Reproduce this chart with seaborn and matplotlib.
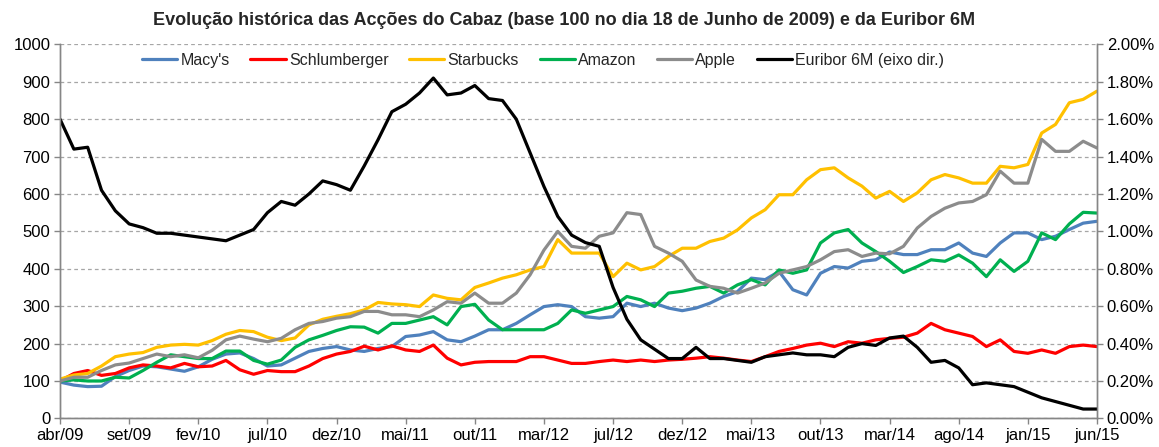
import numpy as np
import matplotlib
matplotlib.use("Agg")
import matplotlib.pyplot as plt
from matplotlib.ticker import FuncFormatter, MultipleLocator
import seaborn as sns

# eixo x: posicoes dos rotulos (0 = abr/09 ... 15 = jun/15), dados lidos a cada 0.2 intervalos
tick_labels = ["abr/09", "set/09", "fev/10", "jul/10", "dez/10", "mai/11", "out/11", "mar/12",
               "jul/12", "dez/12", "mai/13", "out/13", "mar/14", "ago/14", "jan/15", "jun/15"]

# base 100
macys = [97, 89, 85, 86, 112, 128, 140, 138, 132, 126, 138, 158, 172, 175, 160, 140,
         143, 161, 179, 187, 192, 183, 179, 187, 192, 219, 223, 232, 210, 205, 220, 237,
         237, 254, 277, 299, 304, 299, 272, 268, 272, 308, 299, 308, 295, 288, 295, 308,
         326, 339, 375, 371, 393, 344, 330, 388, 406, 402, 420, 424, 445, 438, 438, 451,
         451, 469, 442, 433, 469, 496, 496, 478, 487, 505, 522, 527]
schlumberger = [100, 120, 128, 115, 120, 135, 143, 140, 135, 147, 138, 140, 155, 130, 118, 128,
                125, 125, 140, 160, 172, 179, 193, 183, 194, 183, 179, 196, 161, 143, 150, 152,
                152, 152, 165, 165, 156, 147, 147, 152, 156, 152, 156, 152, 156, 158, 161, 165,
                161, 156, 152, 165, 179, 187, 196, 201, 192, 205, 201, 210, 214, 217, 228, 254,
                237, 228, 219, 192, 210, 179, 174, 183, 174, 192, 196, 192]
starbucks = [105, 116, 120, 140, 165, 172, 176, 190, 196, 198, 196, 208, 225, 235, 232, 217,
             208, 215, 250, 265, 273, 280, 290, 310, 306, 304, 299, 330, 321, 317, 350, 362,
             375, 384, 397, 406, 478, 442, 442, 442, 379, 415, 397, 406, 433, 455, 455, 473,
             482, 504, 536, 558, 598, 598, 638, 665, 670, 643, 621, 589, 607, 580, 603, 638,
             652, 643, 629, 629, 674, 670, 679, 763, 786, 844, 853, 875]
amazon = [100, 103, 100, 100, 110, 108, 128, 150, 170, 165, 160, 160, 180, 180, 155, 145,
          156, 190, 210, 222, 235, 245, 244, 228, 254, 254, 263, 272, 250, 299, 305, 263,
          237, 237, 237, 237, 254, 290, 281, 290, 299, 326, 317, 299, 335, 340, 348, 353,
          335, 357, 371, 357, 397, 388, 397, 469, 496, 505, 469, 446, 420, 390, 406, 424,
          420, 437, 415, 379, 424, 393, 420, 496, 478, 520, 551, 549]
apple = [100, 110, 110, 128, 143, 148, 160, 172, 165, 170, 162, 182, 210, 220, 212, 205,
         214, 237, 254, 259, 268, 272, 286, 286, 277, 277, 272, 290, 312, 308, 335, 308,
         308, 335, 384, 450, 500, 460, 455, 487, 496, 550, 545, 460, 442, 420, 370, 353,
         348, 335, 348, 362, 388, 397, 406, 424, 446, 451, 433, 442, 440, 460, 509, 540,
         562, 576, 580, 598, 661, 629, 629, 746, 714, 714, 741, 723]
# Euribor 6M em %
euribor = [1.60, 1.44, 1.45, 1.22, 1.11, 1.04, 1.02, 0.99, 0.99, 0.98, 0.97, 0.96, 0.95, 0.98,
           1.01, 1.10, 1.16, 1.14, 1.20, 1.27, 1.25, 1.22, 1.35, 1.49, 1.64, 1.68, 1.74, 1.82,
           1.73, 1.74, 1.78, 1.71, 1.70, 1.60, 1.42, 1.24, 1.08, 0.98, 0.94, 0.92, 0.70, 0.53,
           0.42, 0.37, 0.32, 0.32, 0.38, 0.32, 0.32, 0.31, 0.30, 0.33, 0.34, 0.35, 0.34, 0.34,
           0.33, 0.38, 0.40, 0.39, 0.43, 0.44, 0.38, 0.30, 0.31, 0.27, 0.18, 0.19, 0.18, 0.17,
           0.14, 0.11, 0.09, 0.07, 0.05, 0.05]

periodo = np.arange(len(macys)) * 0.2

series = [("Macy's", macys, "#4F81BD"),
          ("Schlumberger", schlumberger, "#FF0000"),
          ("Starbucks", starbucks, "#FFC000"),
          ("Amazon", amazon, "#00B050"),
          ("Apple", apple, "#8C8C8C")]

sns.set_style("white")
plt.rcParams["font.family"] = ["Liberation Sans", "DejaVu Sans"]

fig = plt.figure(figsize=(11.59, 4.47), dpi=100)
ax = fig.add_axes([0.0518, 0.064, 0.8947, 0.8367])

for nome, vals, cor in series:
    sns.lineplot(x=periodo, y=vals, color=cor, linewidth=2.3, label=nome, ax=ax)

ax2 = ax.twinx()
sns.lineplot(x=periodo, y=np.array(euribor) / 100, color="black", linewidth=2.3,
             label="Euribor 6M (eixo dir.)", ax=ax2)

h1, l1 = ax.get_legend_handles_labels()
h2, l2 = ax2.get_legend_handles_labels()
ax.get_legend().remove()
ax2.get_legend().remove()

grey = "#868686"
ax.set_xlim(0, 15)
ax.set_ylim(0, 1000)
ax2.set_ylim(0, 0.02)
ax.yaxis.set_major_locator(MultipleLocator(100))
ax2.yaxis.set_major_locator(MultipleLocator(0.002))
ax2.yaxis.set_major_formatter(FuncFormatter(lambda v, p: "%.2f%%" % (v * 100)))
ax.set_xticks(range(len(tick_labels)))
ax.set_xticklabels(tick_labels)
ax.set_xlabel("")
ax.set_ylabel("")
ax2.set_ylabel("")

ax.yaxis.grid(True, linestyle=(0, (3, 2.5)), color="#A6A6A6", linewidth=0.9)
ax.set_axisbelow(True)
for a in (ax, ax2):
    a.spines["top"].set_visible(False)
    for s in ("left", "right", "bottom"):
        a.spines[s].set_color(grey)
        a.spines[s].set_linewidth(1.0)
    a.tick_params(direction="out", length=4, width=1, color=grey, labelsize=12,
                  labelcolor="black", pad=3)
ax.tick_params(axis="y", left=True, right=False)
ax.tick_params(axis="x", bottom=True)
ax2.tick_params(axis="y", right=True)

ax2.legend(h1 + h2, l1 + l2, loc="center", bbox_to_anchor=(0.466, 0.958), ncol=6,
           frameon=False, fontsize=11.5, handlelength=2.2, handletextpad=0.2,
           columnspacing=1.3, borderaxespad=0)

fig.text(0.487, 0.955, "Evolução histórica das Acções do Cabaz (base 100 no dia 18 de Junho de 2009) e da Euribor 6M",
         ha="center", va="center", fontsize=13, fontweight="bold")

fig.savefig("out.png", dpi=100)
